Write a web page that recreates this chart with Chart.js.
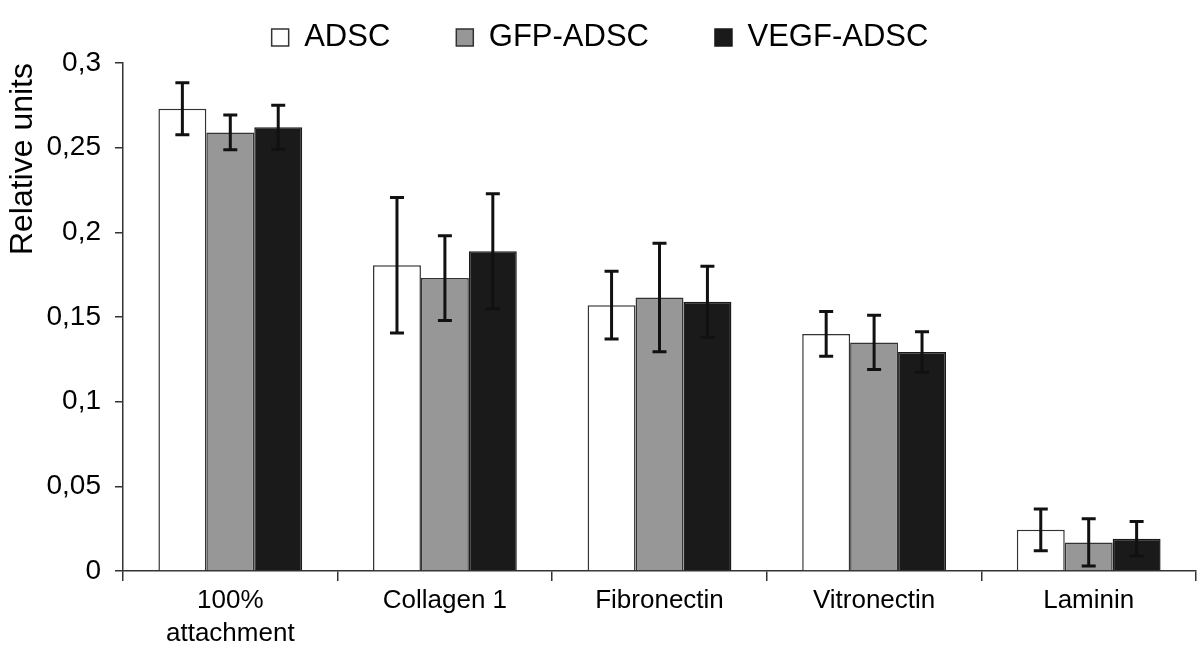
<!DOCTYPE html>
<html>
<head>
<meta charset="utf-8">
<script src="https://cdn.jsdelivr.net/npm/chart.js@4"></script>
<style>
  html, body { margin: 0; padding: 0; background: #fff; }
  #wrap { width: 1200px; height: 659px; position: relative; }
</style>
</head>
<body>
<div id="wrap"><canvas id="chart"></canvas></div>
<script>
const categories = [["100%", "attachment"], "Collagen 1", "Fibronectin", "Vitronectin", "Laminin"];
const seriesNames = ["ADSC", "GFP-ADSC", "VEGF-ADSC"];

const adscValues = [0.273, 0.1805, 0.157, 0.140, 0.0243];
const gfpValues = [0.259, 0.173, 0.1615, 0.135, 0.0169];
const vegfValues = [0.262, 0.1888, 0.159, 0.1293, 0.019];

const adscErrors = [0.0153, 0.040, 0.020, 0.0132, 0.0123];
const gfpErrors = [0.0103, 0.025, 0.032, 0.016, 0.0139];
const vegfErrors = [0.013, 0.034, 0.021, 0.012, 0.0102];

const yTickLabels = ["0", "0,05", "0,1", "0,15", "0,2", "0,25", "0,3"];

const fontFamily = "'Liberation Sans', Arial, sans-serif";

// draws the error bars on top of each bar
const errorBars = {
  id: "errorBars",
  afterDatasetsDraw(chart) {
    const ctx = chart.ctx;
    const y = chart.scales.y;
    ctx.save();
    ctx.strokeStyle = "#111";
    ctx.lineWidth = 3;
    chart.data.datasets.forEach((ds, i) => {
      const meta = chart.getDatasetMeta(i);
      meta.data.forEach((bar, j) => {
        const v = ds.data[j];
        const e = ds.errors[j];
        const top = y.getPixelForValue(v + e);
        const bot = y.getPixelForValue(v - e);
        ctx.beginPath();
        ctx.moveTo(bar.x, top);
        ctx.lineTo(bar.x, bot);
        ctx.moveTo(bar.x - 7, top);
        ctx.lineTo(bar.x + 7, top);
        ctx.moveTo(bar.x - 7, bot);
        ctx.lineTo(bar.x + 7, bot);
        ctx.stroke();
      });
    });
    ctx.restore();
  },
};

new Chart(document.getElementById("chart"), {
  type: "bar",
  data: {
    labels: categories,
    datasets: [
      {
        label: seriesNames[0],
        data: adscValues,
        errors: adscErrors,
        backgroundColor: "#ffffff",
        borderColor: "#333333",
        borderWidth: 1.5,
      },
      {
        label: seriesNames[1],
        data: gfpValues,
        errors: gfpErrors,
        backgroundColor: "#979797",
        borderColor: "#333333",
        borderWidth: 1.5,
      },
      {
        label: seriesNames[2],
        data: vegfValues,
        errors: vegfErrors,
        backgroundColor: "#1a1a1a",
        borderColor: "#1a1a1a",
        borderWidth: 1.5,
      },
    ],
  },
  options: {
    responsive: true,
    maintainAspectRatio: false,
    animation: false,
    // negative top padding pulls the wide-spaced legend up to the top edge
    layout: { padding: { top: -44, left: 4, right: 4, bottom: 0 } },
    datasets: {
      bar: { categoryPercentage: 0.67, barPercentage: 1.0 },
    },
    plugins: {
      tooltip: { enabled: false },
      legend: {
        position: "top",
        labels: {
          color: "#000",
          font: { family: fontFamily, size: 31 },
          boxWidth: 17,
          boxHeight: 17,
          padding: 66,
        },
      },
    },
    scales: {
      x: {
        grid: {
          display: true,
          drawOnChartArea: false,
          drawTicks: true,
          tickLength: 10,
          color: "#333",
          lineWidth: 1.5,
          offset: true,
        },
        border: { display: true, color: "#333", width: 1.5 },
        ticks: {
          color: "#000",
          font: { family: fontFamily, size: 26, lineHeight: 1.25 },
          padding: 4,
          maxRotation: 0,
        },
        afterFit(scale) {
          scale.height = 88;
        },
      },
      y: {
        min: 0,
        max: 0.3,
        ticks: {
          stepSize: 0.05,
          color: "#000",
          font: { family: fontFamily, size: 28 },
          padding: 14,
          callback: (v, i) => yTickLabels[i],
        },
        grid: {
          display: true,
          drawOnChartArea: false,
          drawTicks: true,
          tickLength: 8,
          color: "#333",
          lineWidth: 1.5,
        },
        border: { display: true, color: "#333", width: 1.5 },
        title: {
          display: true,
          text: "Relative units",
          align: "end",
          color: "#000",
          font: { family: fontFamily, size: 32 },
          padding: { top: 0, bottom: 0 },
        },
        afterFit(scale) {
          scale.width = 119;
        },
      },
    },
  },
  plugins: [errorBars],
});
</script>
</body>
</html>
